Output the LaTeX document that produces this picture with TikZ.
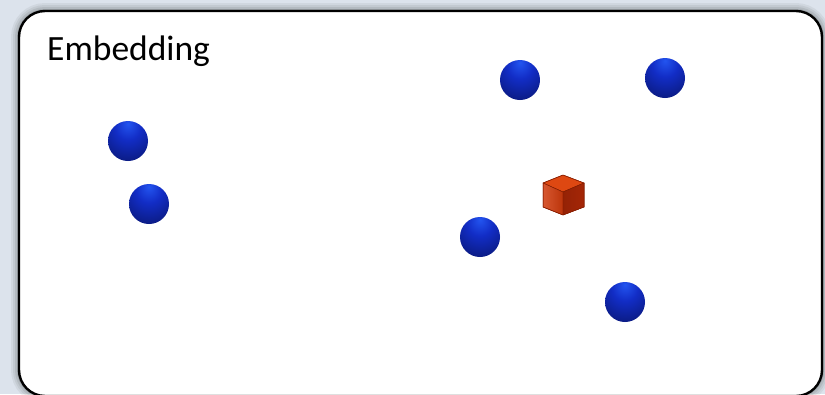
\documentclass[tikz,border=0pt]{standalone}
\usepackage{fontspec}
\setmainfont{Carlito}
\usepackage{tikz}
\usetikzlibrary{positioning}

\definecolor{pagebg}{RGB}{220,227,236}
\definecolor{beadhi}{RGB}{35,85,240}
\definecolor{beadmid}{RGB}{18,45,198}
\definecolor{beaddk}{RGB}{8,20,105}
\definecolor{cubetop}{RGB}{222,72,18}
\definecolor{cubeleft}{RGB}{208,58,12}
\definecolor{cuberight}{RGB}{165,38,6}
\definecolor{cubeedge}{RGB}{140,30,0}

\pgfdeclareradialshading{bead}{\pgfpoint{0bp}{22bp}}{%
  color(0bp)=(beadhi); color(16bp)=(beadmid); color(46bp)=(beaddk);
  color(80bp)=(beaddk)}

\begin{document}
\begin{tikzpicture}[
  x=1pt,y=-1pt,
  frame/.style={rounded corners=26pt},
  bead/.style={circle,minimum size=40pt,inner sep=0pt,shading=bead},
  title/.style={anchor=base west,font=\fontsize{35.5}{42}\selectfont,inner sep=0pt},
  face/.style={draw=cubeedge,line width=0.5pt,line join=round}
]
\useasboundingbox (0,0) rectangle (825,394);
\fill[pagebg] (0,0) rectangle (825,394);
% soft shadow round the panel
\foreach \w/\o in {16/0.05,12/0.06,8/0.08,4/0.12}
  \draw[frame,line width=\w pt,black,opacity=\o] (19,11) rectangle (822,396);
\draw[frame,fill=white,line width=2.4pt] (19,11) rectangle (822,396);

\node[title] (label) at (47,60) {Embedding};

% points of the embedding
\node[bead] (p1) at (520,80) {};
\node[bead] (p2) at (665,78) {};
\node[bead] (p3) at (128,141) {};
\node[bead] (p4) at (149,204) {};
\node[bead] (p5) at (480,237) {};
\node[bead] (p6) at (625,302) {};

% query cube
\coordinate (cube) at (563,195);
\fill[face,fill=cubetop] ([shift={(0,-20)}]cube) -- ([shift={(21,-12)}]cube)
  -- ([shift={(0,-3)}]cube) -- ([shift={(-20,-12)}]cube) -- cycle;
\fill[face,left color=cubeleft!85!white,right color=cubeleft!90!black]
  ([shift={(-20,-12)}]cube) -- ([shift={(0,-3)}]cube)
  -- ([shift={(0,20)}]cube) -- ([shift={(-20,12)}]cube) -- cycle;
\fill[face,left color=cuberight!90!black,right color=cuberight]
  ([shift={(0,-3)}]cube) -- ([shift={(21,-12)}]cube)
  -- ([shift={(21,12)}]cube) -- ([shift={(0,20)}]cube) -- cycle;
\draw[face] ([shift={(0,-20)}]cube) -- ([shift={(21,-12)}]cube)
  -- ([shift={(21,12)}]cube) -- ([shift={(0,20)}]cube)
  -- ([shift={(-20,12)}]cube) -- ([shift={(-20,-12)}]cube) -- cycle;
\end{tikzpicture}
\end{document}
